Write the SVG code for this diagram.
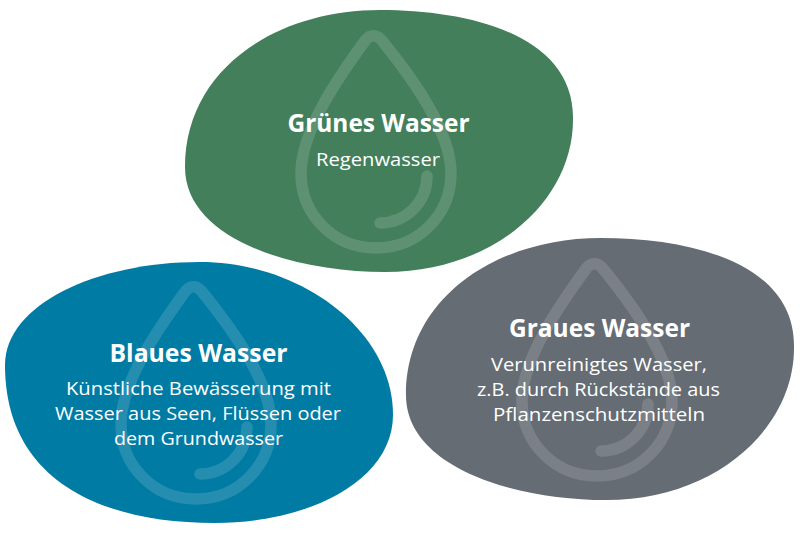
<svg xmlns="http://www.w3.org/2000/svg" width="800" height="534" viewBox="0 0 800 534">
<style>
text{fill:#fff;font-family:"Open Sans","Noto Sans","Liberation Sans",sans-serif;text-anchor:middle}
.t{font-size:25px;font-weight:700}
.s{font-size:19px;font-weight:400}
.d{fill:none;stroke:#fff;stroke-opacity:.14;stroke-width:11.5;stroke-linecap:round;stroke-linejoin:round}
</style>
<defs>
<path id="drop" class="d" d="M366,39.5Q373.5,32 381,39.5C410,75 451,130 451,173C451,215 418,248 376,248C334,248 301,215 301,173C301,130 340,75 366,39.5ZM427,176C427,203 405,223 380,223"/>
<path id="blob" d="M380,10C470,10 575,35 573,120C573,200 495,272 385,272C295,272 185,240 185,167C185,70 275,10 380,10Z"/>
</defs>
<rect width="800" height="534" fill="#fff"/>
<g id="gruen">
<use href="#blob" fill="#437f5b"/>
<use href="#drop"/>
<text class="t" x="378.5" y="132" textLength="182" lengthAdjust="spacingAndGlyphs">Grünes Wasser</text>
<text class="s" x="378" y="166" textLength="124" lengthAdjust="spacingAndGlyphs">Regenwasser</text>
</g>
<g id="blau">
<path fill="#007ba3" d="M200,262C300,262 393,330 393,415C393,480 310,523 215,523C100,523 5,480 5,365C5,305 95,262 200,262Z"/>
<use href="#drop" x="-180" y="251"/>
<text class="t" x="198.5" y="362" textLength="178" lengthAdjust="spacingAndGlyphs">Blaues Wasser</text>
<text class="s" x="198.5" y="395" textLength="265" lengthAdjust="spacingAndGlyphs">Künstliche Bewässerung mit</text>
<text class="s" x="198" y="420" textLength="286" lengthAdjust="spacingAndGlyphs">Wasser aus Seen, Flüssen oder</text>
<text class="s" x="198.5" y="445" textLength="169" lengthAdjust="spacingAndGlyphs">dem Grundwasser</text>
</g>
<g id="grau">
<use href="#blob" x="221" y="228" fill="#656c73"/>
<use href="#drop" x="221" y="228"/>
<text class="t" x="599.5" y="337" textLength="181" lengthAdjust="spacingAndGlyphs">Graues Wasser</text>
<text class="s" x="599" y="371" textLength="216" lengthAdjust="spacingAndGlyphs">Verunreinigtes Wasser,</text>
<text class="s" x="598.5" y="396" textLength="243" lengthAdjust="spacingAndGlyphs">z.B. durch Rückstände aus</text>
<text class="s" x="599" y="421" textLength="212" lengthAdjust="spacingAndGlyphs">Pflanzenschutzmitteln</text>
</g>
</svg>
